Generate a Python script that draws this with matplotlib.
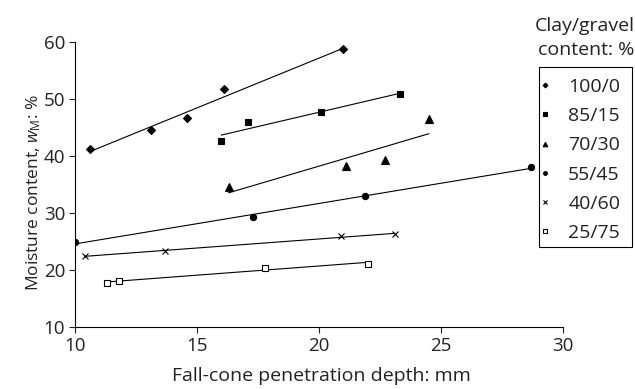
import numpy as np
import matplotlib.pyplot as plt
from matplotlib.patches import Rectangle

plt.rcParams['font.family'] = ['Open Sans', 'DejaVu Sans']
plt.rcParams['mathtext.fontset'] = 'custom'
plt.rcParams['mathtext.it'] = 'Open Sans:italic'
plt.rcParams['mathtext.rm'] = 'Open Sans'

# Fall-cone depth (mm) and moisture content (%) per clay/gravel mix
labels = ['100/0', '85/15', '70/30', '55/45', '40/60', '25/75']
depth = [
    [10.6, 13.1, 14.6, 16.1, 21.0],
    [16.0, 17.1, 20.1, 23.3],
    [16.3, 21.1, 22.7, 24.5],
    [10.0, 17.3, 21.9, 28.7],
    [10.4, 13.7, 20.9, 23.1],
    [11.3, 11.8, 17.8, 22.0],
]
moisture = [
    [41.3, 44.5, 46.6, 51.7, 58.8],
    [42.7, 45.9, 47.8, 50.8],
    [34.6, 38.3, 39.3, 46.5],
    [24.9, 29.3, 32.9, 38.1],
    [22.4, 23.4, 25.9, 26.3],
    [17.7, 18.1, 20.4, 21.1],
]
markers = ['D', 's', '^', 'o', 'x', 's']
msizes = [4, 5, 5.5, 4.5, 5, 4.5]
faces = ['black', 'black', 'black', 'black', 'black', 'white']

W, H = 635, 389
fig = plt.figure(figsize=(6.35, 3.89), dpi=100)
ax = fig.add_axes([75 / W, 1 - 327 / H, 488 / W, 285 / H])

handles = []
for x, y, lab, m, ms, fc in zip(depth, moisture, labels, markers, msizes, faces):
    x = np.array(x)
    y = np.array(y)
    k, b = np.polyfit(x, y, 1)
    xs = np.array([x.min(), x.max()])
    ax.plot(xs, k * xs + b, color='black', lw=0.8)
    h, = ax.plot(x, y, ls='none', marker=m, ms=ms, mfc=fc, mec='black',
                 mew=0.8, label=lab, zorder=3)
    handles.append(h)

ax.set_xlim(10, 30)
ax.set_ylim(10, 60)
ax.set_xticks([10, 15, 20, 25, 30])
ax.set_yticks([10, 20, 30, 40, 50, 60])
ax.tick_params(direction='out', length=4, width=0.8, labelsize=13.5,
               colors='#222222', pad=3)
for s in ['top', 'right']:
    ax.spines[s].set_visible(False)
for s in ['left', 'bottom']:
    ax.spines[s].set_linewidth(0.8)

ax.set_xlabel('Fall-cone penetration depth: mm', fontsize=14, color='#222222')
ax.xaxis.set_label_coords(0.506, -0.14)
ax.set_ylabel(r'Moisture content, $w_{\mathrm{M}}$: %', fontsize=12.5, color='#222222')
ax.yaxis.set_label_coords(-0.066, 0.472)

# legend box drawn separately so the padding matches
fig.patches.append(Rectangle((539 / W, 1 - 247 / H), 93 / W, 180 / H,
                             transform=fig.transFigure, fill=False,
                             edgecolor='black', lw=0.8))
leg = fig.legend(handles=handles, loc='upper left',
                 bbox_to_anchor=(539 / W, 1 - 75 / H),
                 bbox_transform=fig.transFigure, borderaxespad=0,
                 fontsize=14, markerscale=0.6, handlelength=0.35,
                 handletextpad=1.0, labelspacing=0.58, frameon=False,
                 borderpad=0.15, labelcolor='#222222')

fig.text(0.999, 1 - 38 / H, 'Clay/gravel\ncontent: %', ha='right', va='center',
         fontsize=14, multialignment='right', linespacing=1.45,
         color='#222222')

fig.savefig('out.png', dpi=100)
